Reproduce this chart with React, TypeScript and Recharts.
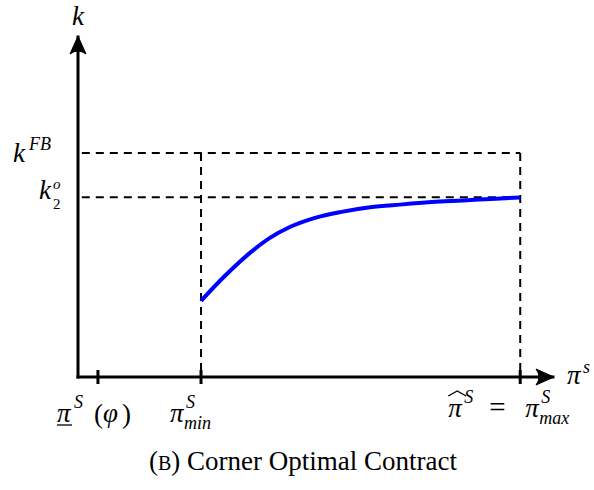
import React from 'react';
import { ComposedChart, Line, XAxis, YAxis, ReferenceLine, ReferenceDot } from 'recharts';

// axis domains
const xDomain: [number, number] = [0, 10];
const yDomain: [number, number] = [0, 10];

// x tick positions: pi_lower(phi), pi_min, pi_hat = pi_max
const xTickValues = [0.42, 2.59, 9.31];
// y tick positions: k2^o, k^FB
const kTwoO = 5.29;
const kFB = 6.59;
const yTickValues = [kTwoO, kFB];

// optimal contract curve k(pi)
const curveX = [2.59, 3.09, 3.62, 4.04, 4.46, 4.99, 5.52, 6.15, 6.78, 7.62, 8.46, 9.31];
const curveK = [2.24, 2.97, 3.65, 4.09, 4.41, 4.68, 4.85, 4.99, 5.07, 5.16, 5.22, 5.28];

const data = curveX.map((x, i) => ({ x, k: curveK[i] }));

const FONT = 'Liberation Serif, Times New Roman, Tinos, DejaVu Serif, Noto Serif, serif';
const MAIN = 27;
const SCRIPT = 18;

const it = { fontFamily: FONT, fontStyle: 'italic' as const, fill: '#000' };
const up = { fontFamily: FONT, fill: '#000' };

const XTick = (props: any) => {
  const { x, y, payload } = props;
  const v = payload?.value;
  let label: React.ReactNode = null;
  if (v === xTickValues[0]) {
    const b = y + 45;
    label = (
      <g>
        <text x={x - 41} y={b} fontSize={MAIN} {...it}>π</text>
        <line x1={x - 41} x2={x - 26} y1={b + 3} y2={b + 3} stroke="#000" strokeWidth={1.3} />
        <text x={x - 24} y={b - 14} fontSize={SCRIPT} {...it}>S</text>
        <text x={x - 4} y={b + 1} fontSize={MAIN} {...up}>(</text>
        <text x={x + 5} y={b} fontSize={MAIN} {...it}>φ</text>
        <text x={x + 24} y={b + 1} fontSize={MAIN} {...up}>)</text>
      </g>
    );
  } else if (v === xTickValues[1]) {
    const b = y + 45;
    label = (
      <g>
        <text x={x - 31} y={b} fontSize={MAIN} {...it}>π</text>
        <text x={x - 15} y={b - 14} fontSize={SCRIPT} {...it}>S</text>
        <text x={x - 17} y={b + 7} fontSize={SCRIPT} {...it}>min</text>
      </g>
    );
  } else if (v === xTickValues[2]) {
    const b = y + 40;
    label = (
      <g>
        <text x={x - 72} y={b} fontSize={MAIN} {...it}>π</text>
        <path d={`M${x - 72},${b - 21} L${x - 63},${b - 26} L${x - 54},${b - 21}`} fill="none" stroke="#000" strokeWidth={1.3} />
        <text x={x - 56} y={b - 14} fontSize={SCRIPT} {...it}>S</text>
        <text x={x - 31} y={b} fontSize={29} {...up}>=</text>
        <text x={x + 5} y={b} fontSize={MAIN} {...it}>π</text>
        <text x={x + 21} y={b - 14} fontSize={SCRIPT} {...it}>S</text>
        <text x={x + 19} y={b + 7} fontSize={SCRIPT} {...it}>max</text>
      </g>
    );
  }
  return (
    <g>
      <line x1={x} x2={x} y1={y - 7} y2={y + 7} stroke="#000" strokeWidth={3} />
      {label}
    </g>
  );
};

const YTick = (props: any) => {
  const { x, y, payload } = props;
  const v = payload?.value;
  if (v === kFB) {
    return (
      <g>
        <text x={x - 65} y={y + 9} fontSize={MAIN} {...it}>k</text>
        <text x={x - 49} y={y - 3} fontSize={SCRIPT} {...it}>FB</text>
      </g>
    );
  }
  if (v === kTwoO) {
    return (
      <g>
        <text x={x - 39} y={y + 2} fontSize={MAIN} {...it}>k</text>
        <text x={x - 25} y={y - 8} fontSize={15} {...it}>o</text>
        <text x={x - 25} y={y + 12} fontSize={15} {...up}>2</text>
      </g>
    );
  }
  return null;
};

const RightArrow = (props: any) => {
  const { cx, cy } = props;
  if (cx == null || cy == null) return null;
  const tx = cx + 1;
  return (
    <g>
      <path d={`M${tx},${cy} L${tx - 18},${cy - 8} Q${tx - 12},${cy} ${tx - 18},${cy + 8} Z`} fill="#000" stroke="#000" strokeWidth={1} strokeLinejoin="round" />
      <text x={cx + 14} y={cy + 7} fontSize={MAIN} {...it}>π</text>
      <text x={cx + 30} y={cy - 4} fontSize={SCRIPT} {...it}>s</text>
    </g>
  );
};

const UpArrow = (props: any) => {
  const { cx, cy } = props;
  if (cx == null || cy == null) return null;
  const ty = cy - 1;
  return (
    <g>
      <path d={`M${cx},${ty} L${cx - 8},${ty + 18} Q${cx},${ty + 12} ${cx + 8},${ty + 18} Z`} fill="#000" stroke="#000" strokeWidth={1} strokeLinejoin="round" />
      <text x={cx} y={cy - 12} fontSize={MAIN} textAnchor="middle" {...it}>k</text>
    </g>
  );
};

const DASH = '8 6';

export default function App() {
  return (
    <div style={{ position: 'absolute', left: 0, top: 0, width: 594, height: 490, background: '#fff' }}>
      <ComposedChart
        width={594}
        height={490}
        data={data}
        margin={{ top: 37, right: 41, bottom: 53, left: 8 }}
      >
        <XAxis
          dataKey="x"
          type="number"
          domain={xDomain}
          ticks={xTickValues}
          interval={0}
          height={60}
          tickSize={0}
          tickMargin={0}
          tickLine={false}
          axisLine={{ stroke: '#000', strokeWidth: 3, strokeLinecap: 'square' }}
          tick={(p: any) => <XTick {...p} />}
          allowDataOverflow
        />
        <YAxis
          type="number"
          domain={yDomain}
          ticks={yTickValues}
          interval={0}
          width={70}
          tickSize={0}
          tickMargin={0}
          tickLine={false}
          axisLine={{ stroke: '#000', strokeWidth: 3, strokeLinecap: 'square' }}
          tick={(p: any) => <YTick {...p} />}
          allowDataOverflow
        />
        <ReferenceLine segment={[{ x: 0.08, y: kFB }, { x: xTickValues[2], y: kFB }]} stroke="#000" strokeWidth={2} strokeDasharray={DASH} ifOverflow="visible" />
        <ReferenceLine segment={[{ x: 0.08, y: kTwoO }, { x: xTickValues[2], y: kTwoO }]} stroke="#000" strokeWidth={2} strokeDasharray={DASH} ifOverflow="visible" />
        <ReferenceLine segment={[{ x: xTickValues[1], y: kFB }, { x: xTickValues[1], y: 0 }]} stroke="#000" strokeWidth={2} strokeDasharray={DASH} ifOverflow="visible" />
        <ReferenceLine segment={[{ x: xTickValues[2], y: kFB }, { x: xTickValues[2], y: 0 }]} stroke="#000" strokeWidth={2} strokeDasharray={DASH} ifOverflow="visible" />
        <Line
          type="monotone"
          dataKey="k"
          stroke="#0000ff"
          strokeWidth={4}
          dot={false}
          activeDot={false}
          isAnimationActive={false}
        />
        <ReferenceDot x={xDomain[1]} y={0} r={0} ifOverflow="visible" shape={(p: any) => <RightArrow {...p} />} />
        <ReferenceDot x={0} y={yDomain[1]} r={0} ifOverflow="visible" shape={(p: any) => <UpArrow {...p} />} />
      </ComposedChart>
      <div
        style={{
          position: 'absolute',
          left: 0,
          top: 445,
          width: 606,
          textAlign: 'center',
          fontFamily: FONT,
          fontSize: 27,
          color: '#000',
          lineHeight: '32px',
        }}
      >
        (<span style={{ fontSize: 20 }}>B</span>) Corner Optimal Contract
      </div>
    </div>
  );
}
